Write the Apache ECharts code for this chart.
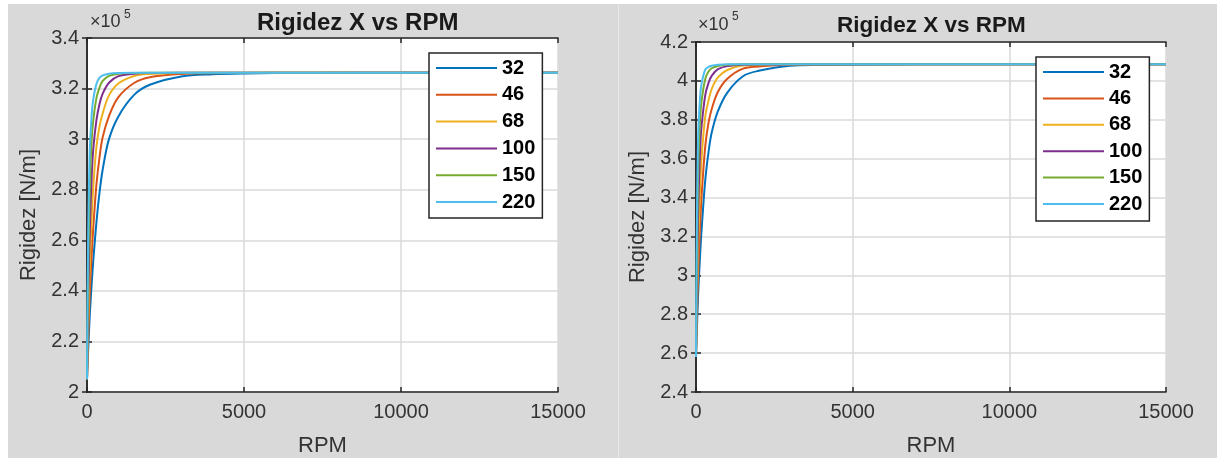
<!DOCTYPE html>
<html><head><meta charset="utf-8">
<script src="https://cdn.jsdelivr.net/npm/echarts@6/dist/echarts.min.js"></script>
<style>
html,body{margin:0;padding:0;background:#fff;width:1217px;height:462px;overflow:hidden}
.bg{position:absolute;top:4px;height:454px;background:#d9d9d9}
#chart{position:absolute;left:0;top:0;width:1217px;height:462px}
</style></head><body>
<div class="bg" style="left:8px;width:610px"></div>
<div class="bg" style="left:618px;width:1px;background:#e8e8e8"></div>
<div class="bg" style="left:619px;width:598px"></div>
<div id="chart"></div>
<script>
// RPM samples
const rpm = [0, 10, 25, 50, 75, 100, 150, 200, 300, 400, 500, 700, 1000, 1500, 2000, 3000, 4000, 5000, 7000, 10000, 15000];
const oilNames = ['32', '46', '68', '100', '150', '220'];
const colors = ['#0072BD', '#D95319', '#EDB120', '#7E2F8E', '#77AC30', '#4DBEEE'];
const chartTitle = 'Rigidez X vs RPM';
const xTickLabels = ['0', '5000', '10000', '15000'];

// Left panel, stiffness in units of 1e5 N/m
const left32  = [2.05, 2.085, 2.13, 2.20, 2.27, 2.33, 2.43, 2.52, 2.67, 2.79, 2.88, 3.00, 3.09, 3.175, 3.215, 3.248, 3.257, 3.260, 3.262, 3.263, 3.263];
const left46  = [2.05, 2.10, 2.16, 2.26, 2.35, 2.42, 2.545, 2.65, 2.82, 2.93, 3.008, 3.091, 3.166, 3.222, 3.245, 3.258, 3.261, 3.262, 3.263, 3.263, 3.263];
const left68  = [2.05, 2.119, 2.209, 2.342, 2.447, 2.54, 2.692, 2.812, 2.969, 3.052, 3.102, 3.173, 3.22, 3.25, 3.258, 3.262, 3.263, 3.263, 3.263, 3.263, 3.263];
const left100 = [2.05, 2.148, 2.277, 2.441, 2.575, 2.685, 2.852, 2.962, 3.074, 3.14, 3.18, 3.223, 3.249, 3.259, 3.2615, 3.263, 3.263, 3.263, 3.263, 3.263, 3.263];
const left150 = [2.05, 2.191, 2.364, 2.575, 2.732, 2.852, 3.001, 3.074, 3.162, 3.205, 3.23, 3.25, 3.259, 3.262, 3.263, 3.263, 3.263, 3.263, 3.263, 3.263, 3.263];
const left220 = [2.05, 2.2525, 2.469, 2.722, 2.891, 2.994, 3.096, 3.158, 3.218, 3.243, 3.252, 3.259, 3.262, 3.263, 3.263, 3.263, 3.263, 3.263, 3.263, 3.263, 3.263];

// Right panel, stiffness in units of 1e5 N/m
const right32  = [2.58, 2.635, 2.708, 2.823, 2.926, 3.009, 3.162, 3.286, 3.497, 3.634, 3.733, 3.844, 3.940, 4.024, 4.052, 4.078, 4.082, 4.083, 4.085, 4.085, 4.085];
const right46  = [2.58, 2.658, 2.757, 2.914, 3.039, 3.141, 3.324, 3.463, 3.671, 3.785, 3.854, 3.944, 4.011, 4.063, 4.074, 4.083, 4.084, 4.085, 4.085, 4.085, 4.085];
const right68  = [2.58, 2.690, 2.832, 3.028, 3.187, 3.313, 3.524, 3.654, 3.822, 3.899, 3.958, 4.018, 4.056, 4.079, 4.082, 4.085, 4.085, 4.085, 4.085, 4.085, 4.085];
const right100 = [2.58, 2.737, 2.929, 3.175, 3.367, 3.505, 3.711, 3.803, 3.931, 3.990, 4.026, 4.060, 4.076, 4.083, 4.084, 4.085, 4.085, 4.085, 4.085, 4.085, 4.085];
const right150 = [2.58, 2.802, 3.057, 3.360, 3.574, 3.697, 3.849, 3.923, 4.012, 4.048, 4.065, 4.077, 4.083, 4.085, 4.085, 4.085, 4.085, 4.085, 4.085, 4.085, 4.085];
const right220 = [2.58, 2.890, 3.204, 3.552, 3.750, 3.835, 3.955, 4.004, 4.060, 4.072, 4.078, 4.083, 4.085, 4.085, 4.085, 4.085, 4.085, 4.085, 4.085, 4.085, 4.085];

const leftSets = [left32, left46, left68, left100, left150, left220];
const rightSets = [right32, right46, right68, right100, right150, right220];

const FONT = '"Liberation Sans", Arial, sans-serif';
const AX = '#262626';
const LBL = '#333333';

function xAx(grid, pos, main) {
  return {
    type: 'value', gridIndex: grid, position: pos, min: 0, max: 15000, interval: 5000,
    name: main ? 'RPM' : '', nameLocation: 'middle', nameGap: 43,
    nameTextStyle: { fontSize: 22, color: LBL, fontFamily: FONT },
    axisLine: { show: true, lineStyle: { color: AX, width: 1.5 } },
    axisTick: { show: true, inside: true, length: 5, lineStyle: { color: AX, width: 1.5 } },
    axisLabel: { show: main, fontSize: 20, color: LBL, fontFamily: FONT, margin: 10,
      formatter: v => xTickLabels[Math.round(v / 5000)] },
    splitLine: { show: main, lineStyle: { color: '#dadada', width: 1.5 } }
  };
}
function yAx(grid, pos, main, min, max) {
  return {
    type: 'value', gridIndex: grid, position: pos, min: min, max: max, interval: 0.2,
    name: main ? 'Rigidez [N/m]' : '', nameLocation: 'middle', nameGap: 47,
    nameTextStyle: { fontSize: 22, color: LBL, fontFamily: FONT },
    axisLine: { show: true, lineStyle: { color: AX, width: 1.5 } },
    axisTick: { show: true, inside: true, length: 5, lineStyle: { color: AX, width: 1.5 } },
    axisLabel: { show: main, fontSize: 20, color: LBL, fontFamily: FONT, margin: 8,
      formatter: v => String(parseFloat(v.toFixed(1))) },
    splitLine: { show: main, lineStyle: { color: '#dadada', width: 1.5 } }
  };
}
function legendFor(left, top, gap, pad) {
  return {
    left: left, top: top, orient: 'vertical', selectedMode: false,
    data: oilNames, icon: 'rect', itemWidth: 61, itemHeight: 2, itemGap: gap, itemTextGap: 6,
    itemStyle: { borderWidth: 0 },
    padding: pad, backgroundColor: '#fff', borderColor: AX, borderWidth: 1.5,
    textStyle: { fontSize: 20, fontWeight: 'bold', color: '#000', fontFamily: FONT, lineHeight: 20 }
  };
}

const series = [];
oilNames.forEach((n, i) => {
  series.push({ name: n, type: 'line', xAxisIndex: 0, yAxisIndex: 0, showSymbol: false,
    smooth: 0.35, color: colors[i], lineStyle: { width: 2 },
    data: rpm.map((x, k) => [x, leftSets[i][k]]) });
});
oilNames.forEach((n, i) => {
  series.push({ name: n, type: 'line', xAxisIndex: 2, yAxisIndex: 2, showSymbol: false,
    smooth: 0.35, color: colors[i], lineStyle: { width: 2 },
    data: rpm.map((x, k) => [x, rightSets[i][k]]) });
});

const chart = echarts.init(document.getElementById('chart'), null, { renderer: 'canvas' });
chart.setOption({
  animation: false,
  textStyle: { fontFamily: FONT },
  title: [
    { text: chartTitle, left: 257, top: 11, padding: 0, textStyle: { fontSize: 24, fontWeight: 'bold', color: '#1a1a1a', fontFamily: FONT } },
    { text: chartTitle, left: 837, top: 14, padding: 0, textStyle: { fontSize: 22.5, fontWeight: 'bold', color: '#1a1a1a', fontFamily: FONT } },
    { text: '×10', left: 90, top: 13, padding: 0, textStyle: { fontSize: 18, fontWeight: 'normal', color: LBL, fontFamily: FONT } },
    { text: '5', left: 124, top: 9, padding: 0, textStyle: { fontSize: 12, fontWeight: 'normal', color: LBL, fontFamily: FONT } },
    { text: '×10', left: 698, top: 16, padding: 0, textStyle: { fontSize: 18, fontWeight: 'normal', color: LBL, fontFamily: FONT } },
    { text: '5', left: 732, top: 11, padding: 0, textStyle: { fontSize: 12, fontWeight: 'normal', color: LBL, fontFamily: FONT } }
  ],
  legend: [legendFor(429, 53, 6.8, [5, 7, 6, 7]), legendFor(1036, 57, 6.4, [5, 7, 7, 7])],
  grid: [
    { left: 87, top: 38, width: 471, height: 355, show: true, backgroundColor: '#fff', borderWidth: 0 },
    { left: 696, top: 42, width: 470, height: 353, show: true, backgroundColor: '#fff', borderWidth: 0 }
  ],
  xAxis: [xAx(0, 'bottom', true), xAx(0, 'top', false), xAx(1, 'bottom', true), xAx(1, 'top', false)],
  yAxis: [yAx(0, 'left', true, 2, 3.4), yAx(0, 'right', false, 2, 3.4), yAx(1, 'left', true, 2.4, 4.2), yAx(1, 'right', false, 2.4, 4.2)],
  series: series
});
</script></body></html>
